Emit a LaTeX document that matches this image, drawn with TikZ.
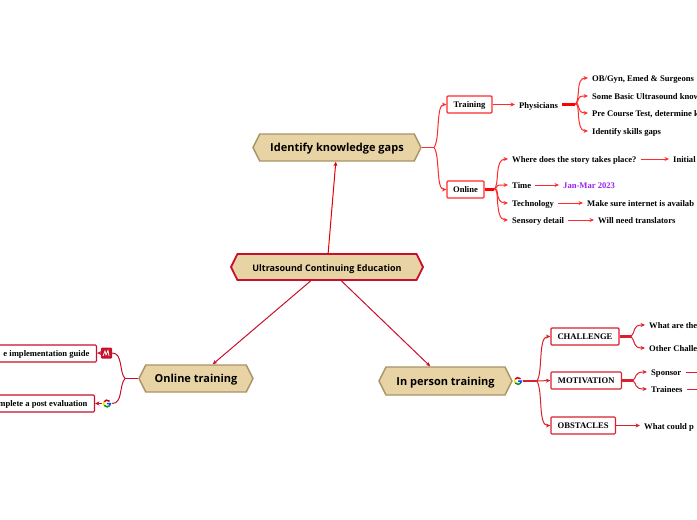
\documentclass[tikz,border=0pt]{standalone}
\usepackage{fontspec}
\setmainfont{Liberation Serif}
\newfontfamily\topicfont{Open Sans}
\usetikzlibrary{arrows.meta,shapes.symbols}
\definecolor{topicfill}{HTML}{E8D3A4}
\definecolor{topicline}{HTML}{A89468}
\definecolor{rootline}{HTML}{C8102E}
\definecolor{upline}{HTML}{FF2A2A}
\definecolor{lowline}{HTML}{DA1F2E}
\definecolor{datecol}{HTML}{9B22EE}
\tikzset{
    topic/.style={shape=signal, signal to=west and east, signal pointer angle=127,
        fill=topicfill, draw=topicline, line width=1.4pt, inner sep=0pt,
        text height=9pt, text depth=0.4pt,
        font=\topicfont\bfseries\fontsize{11}{13}\selectfont},
    rootnode/.style={topic, draw=rootline, line width=1.8pt, text depth=0pt,
        font=\topicfont\bfseries\fontsize{9}{11}\selectfont},
    subbox/.style={draw=#1, fill=white, rounded corners=1pt, line width=1.1pt, inner sep=0pt,
        minimum height=17pt, text height=7pt, text depth=1pt,
        font=\bfseries\fontsize{8.6}{10}\selectfont},
    leaf/.style={anchor=west, inner sep=4pt, text height=7.5pt, text depth=0.5pt,
        font=\bfseries\fontsize{8.6}{10}\selectfont},
    iconspot/.style={inner sep=0pt, minimum size=10pt},
    link/.style={draw=#1, line width=1pt, -{Stealth[length=4.5pt,width=4pt]}},
    stem/.style={draw=#1, line width=2.2pt},
    glogo/.pic={
        \draw[line width=1.5pt, red!85!black] (40:3.4pt) arc (40:150:3.4pt);
        \draw[line width=1.5pt, yellow!80!orange] (150:3.4pt) arc (150:215:3.4pt);
        \draw[line width=1.5pt, green!60!black] (215:3.4pt) arc (215:320:3.4pt);
        \draw[line width=1.5pt, blue!70!cyan] (320:3.4pt) arc (320:360:3.4pt) -- (0,0);
    }
}
\begin{document}
\begin{tikzpicture}[x=1pt,y=-1pt]
    \useasboundingbox (0,0) rectangle (697,520);

    % Main topics
    \node[rootnode, minimum width=192pt, minimum height=26pt] (root) at (327,267) {Ultrasound Continuing Education};
    \node[topic, minimum width=168pt, minimum height=27pt] (gaps) at (337,147.5) {Identify knowledge gaps};
    \node[topic, minimum width=114pt, minimum height=27pt] (onlinetr) at (196,378.5) {Online training};
    \node[topic, minimum width=133pt, minimum height=28pt] (person) at (445.5,381) {In person training};

    \draw[link=red!90!black] (root) -- (gaps);
    \draw[link=rootline] (root) -- (onlinetr);
    \draw[link=rootline] (root) -- (person);

    % Identify knowledge gaps
    \node[subbox=upline, minimum width=45pt] (training) at (469.5,104.5) {Training};
    \node[subbox=upline, minimum width=37pt] (online) at (465.5,189.5) {Online};
    \node[leaf] (physicians) at (515,104.5) {Physicians};
    \coordinate (gapsfork) at (434,147.5);
    \draw[stem=upline, line width=1.2pt] (gaps.east) -- (gapsfork);
    \draw[link=upline] (gapsfork) .. controls (440,140) and (436,104.5) .. (training.west);
    \draw[link=upline] (gapsfork) .. controls (440,155) and (436,189.5) .. (online.west);
    \draw[link=upline] (training) -- (physicians);

    \coordinate (physfork) at (575,104.5);
    \draw[stem=red] (physicians.east) -- (physfork);
    \foreach \name/\ypos/\txt in {obgyn/78/{OB/Gyn, Emed \& Surgeons},
            basic/96/{Some Basic Ultrasound know},
            course/113/{Pre Course Test, determine k},
            skills/131/{Identify skills gaps}} {
        \node[leaf] (\name) at (588,\ypos) {\txt};
        \draw[link=upline] (physfork) .. controls (581,100) and (575,\ypos) .. (\name.west);
    }

    \coordinate (onlinefork) at (494,189.5);
    \draw[stem=red] (online.east) -- (onlinefork);
    \foreach \name/\ypos/\txt in {story/159/{Where does the story takes place?},
            timing/185/{Time},
            tech/203/{Technology},
            sensory/220/{Sensory detail}} {
        \node[leaf] (\name) at (508,\ypos) {\txt};
        \draw[link=upline] (onlinefork) .. controls (500,185) and (494,\ypos) .. (\name.west);
    }
    \node[leaf] (initial) at (669,159) {Initial};
    \node[leaf, text=datecol] (jan) at (559,185) {Jan-Mar 2023};
    \node[leaf] (internet) at (583,203) {Make sure internet is availab};
    \node[leaf] (translators) at (594,220) {Will need translators};
    \draw[link=upline] (story) -- (initial);
    \draw[link=upline] (timing) -- (jan);
    \draw[link=upline] (tech) -- (internet);
    \draw[link=upline] (sensory) -- (translators);

    % In person training
    \node[iconspot] (gperson) at (518,381) {};
    \pic at (gperson) {glogo};
    \node[subbox=lowline, minimum width=68pt] (challenge) at (585,336.5) {CHALLENGE};
    \node[subbox=lowline, minimum width=70.5pt] (motivation) at (586.2,380.5) {MOTIVATION};
    \node[subbox=lowline, minimum width=64.5pt] (obstacles) at (583.2,425.5) {OBSTACLES};
    \coordinate (personfork) at (537,381);
    \draw[stem=lowline, line width=1.4pt] (gperson.east) -- (personfork);
    \draw[link=lowline] (personfork) .. controls (543,372) and (538,336.5) .. (challenge.west);
    \draw[link=lowline] (personfork) -- (motivation.west);
    \draw[link=lowline] (personfork) .. controls (543,392) and (538,425.5) .. (obstacles.west);

    \coordinate (challfork) at (631,336.5);
    \draw[stem=lowline] (challenge.east) -- (challfork);
    \node[leaf] (whatare) at (645,325) {What are the};
    \node[leaf] (other) at (645,348) {Other Challe};
    \draw[link=lowline] (challfork) .. controls (636,332) and (632,325) .. (whatare.west);
    \draw[link=lowline] (challfork) .. controls (636,341) and (632,348) .. (other.west);

    \coordinate (motfork) at (633,380.5);
    \draw[stem=lowline] (motivation.east) -- (motfork);
    \node[leaf] (sponsor) at (647,372) {Sponsor};
    \node[leaf] (trainees) at (647,389) {Trainees};
    \draw[link=lowline] (motfork) .. controls (637,377) and (634,372) .. (sponsor.west);
    \draw[link=lowline] (motfork) .. controls (637,384) and (634,389) .. (trainees.west);
    \coordinate (sponsorend) at (705,372);
    \coordinate (traineesend) at (705,389);
    \draw[link=lowline] (sponsor) -- (sponsorend);
    \draw[link=lowline] (trainees) -- (traineesend);

    \node[leaf] (whatcould) at (640,425.5) {What could p};
    \draw[link=lowline] (obstacles) -- (whatcould);

    % Online training
    \node[subbox=rootline, anchor=east, inner xsep=7pt, text width=114pt, align=flush right] (guide) at (97,353.5) {e implementation guide};
    \node[subbox=rootline, anchor=east, inner xsep=7pt, text width=114pt, align=flush right] (evaluation) at (95,403.5) {mplete a post evaluation};
    \node[iconspot, minimum size=11pt, fill=rootline, rounded corners=1pt] (miro) at (106.5,353) {};
    \draw[white, line width=0.8pt] (103,356) -- (105,351) -- (106,355) -- (108,350.5) -- (109,356);
    \node[iconspot] (gpost) at (107,403.5) {};
    \pic at (gpost) {glogo};
    \coordinate (onlinefork2) at (125,378.5);
    \draw[stem=rootline, line width=1.4pt] (onlinetr.west) -- (onlinefork2);
    \draw[stem=rootline, line width=1pt] (onlinefork2) .. controls (119,372) and (123,353) .. (miro.east);
    \draw[stem=rootline, line width=1pt] (onlinefork2) .. controls (119,385) and (123,403.5) .. (gpost.east);
    \draw[link=rootline] (miro) -- (guide);
    \draw[link=rootline] (gpost) -- (evaluation);
\end{tikzpicture}
\end{document}
